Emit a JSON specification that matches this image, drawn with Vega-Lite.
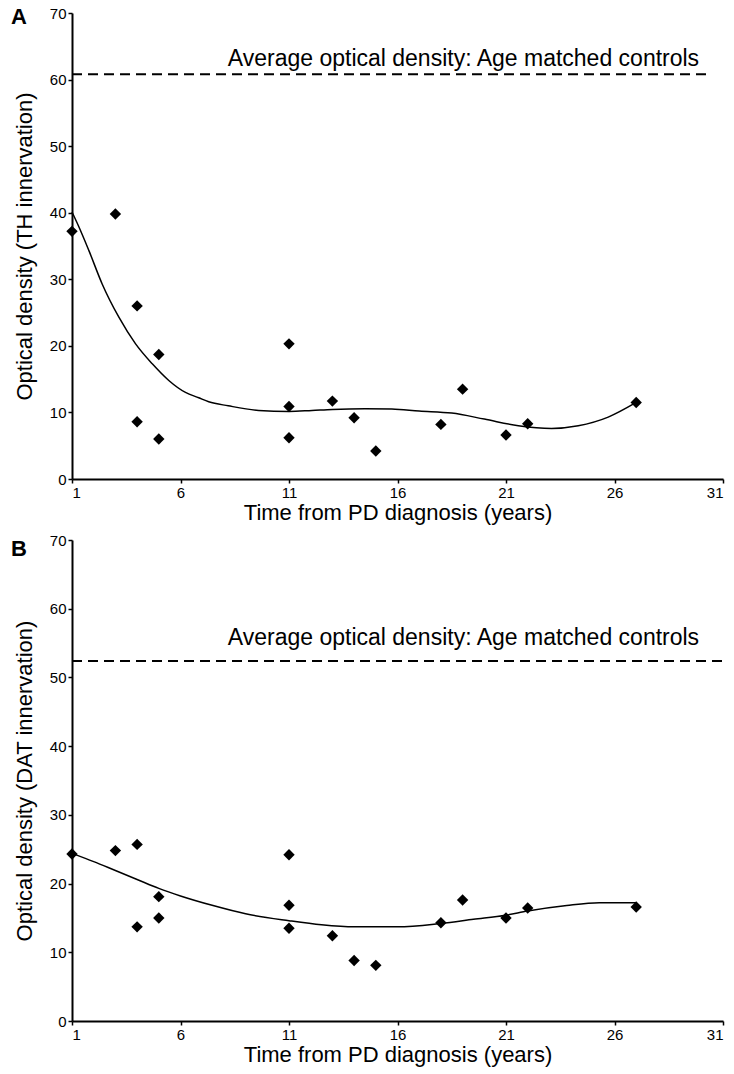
{
  "$schema": "https://vega.github.io/schema/vega-lite/v6.json",
  "background": "white",
  "padding": {"left": 10, "top": 5, "right": 5, "bottom": 5},
  "config": {
    "view": {"stroke": null},
    "font": "Liberation Sans",
    "axis": {"domainColor": "black", "domainWidth": 2, "tickColor": "black", "tickWidth": 1.5, "tickSize": 4, "labelColor": "black", "labelFont": "Liberation Sans", "labelFontSize": 15, "titleFont": "Liberation Sans", "titleFontSize": 22, "titleFontWeight": "normal", "titleColor": "black", "grid": false, "labelPadding": 2},
    "axisY": {"titlePadding": 13},
    "axisX": {"titlePadding": 2},
    "concat": {"spacing": 10}
  },
  "datasets": {
    "ptsA": [
      {"time": 1, "od": 37.2}, {"time": 3, "od": 39.8}, {"time": 4, "od": 26.0}, {"time": 4, "od": 8.6},
      {"time": 5, "od": 18.7}, {"time": 5, "od": 6.0}, {"time": 11, "od": 20.3}, {"time": 11, "od": 10.9},
      {"time": 11, "od": 6.2}, {"time": 13, "od": 11.7}, {"time": 14, "od": 9.2}, {"time": 15, "od": 4.2},
      {"time": 18, "od": 8.2}, {"time": 19, "od": 13.5}, {"time": 21, "od": 6.6}, {"time": 22, "od": 8.3},
      {"time": 27, "od": 11.5}
    ],
    "curveA": [
      {"time": 1, "od": 40.1}, {"time": 1.3, "od": 38.0}, {"time": 1.78, "od": 34.3}, {"time": 2.39, "od": 29.3},
      {"time": 3.16, "od": 24.3}, {"time": 3.93, "od": 20.3}, {"time": 4.7, "od": 17.3}, {"time": 5.46, "od": 14.8},
      {"time": 6.23, "od": 13.0}, {"time": 6.84, "od": 12.2}, {"time": 7.3, "od": 11.6}, {"time": 8.2, "od": 11.0},
      {"time": 9.6, "od": 10.3}, {"time": 11, "od": 10.15}, {"time": 12.06, "od": 10.3}, {"time": 13, "od": 10.45},
      {"time": 14.5, "od": 10.55}, {"time": 15.74, "od": 10.5}, {"time": 17, "od": 10.2}, {"time": 18.5, "od": 9.9},
      {"time": 20, "od": 9.0}, {"time": 21.57, "od": 8.0}, {"time": 23.1, "od": 7.6}, {"time": 24.33, "od": 8.0},
      {"time": 25.71, "od": 9.3}, {"time": 27, "od": 11.5}
    ],
    "ptsB": [
      {"time": 1, "od": 24.3}, {"time": 3, "od": 24.8}, {"time": 4, "od": 25.7}, {"time": 4, "od": 13.7},
      {"time": 5, "od": 18.1}, {"time": 5, "od": 15.0}, {"time": 11, "od": 24.2}, {"time": 11, "od": 16.85},
      {"time": 11, "od": 13.5}, {"time": 13, "od": 12.4}, {"time": 14, "od": 8.8}, {"time": 15, "od": 8.1},
      {"time": 18, "od": 14.3}, {"time": 19, "od": 17.6}, {"time": 21, "od": 15.0}, {"time": 22, "od": 16.45},
      {"time": 27, "od": 16.6}
    ],
    "curveB": [
      {"time": 1, "od": 24.4}, {"time": 2, "od": 23.2}, {"time": 3, "od": 21.9}, {"time": 4, "od": 20.6},
      {"time": 5, "od": 19.3}, {"time": 6, "od": 18.2}, {"time": 7.5, "od": 16.8}, {"time": 9, "od": 15.6},
      {"time": 11, "od": 14.6}, {"time": 12.5, "od": 14.0}, {"time": 14, "od": 13.7}, {"time": 16, "od": 13.7},
      {"time": 18, "od": 14.2}, {"time": 19.5, "od": 14.8}, {"time": 21, "od": 15.4}, {"time": 22, "od": 16.0},
      {"time": 23.8, "od": 16.8}, {"time": 25.3, "od": 17.2}, {"time": 27, "od": 17.2}
    ],
    "refA": [{"time": 1, "time2": 30.4, "od": 60.8}],
    "refB": [{"time": 1, "time2": 31, "od": 52.4}],
    "labA": [{"time": 29.9, "od": 62.1, "label": "Average optical density: Age matched controls"}],
    "labB": [{"time": 29.9, "od": 54.75, "label": "Average optical density: Age matched controls"}],
    "one": [{"n": 1}]
  },
  "vconcat": [
    {
      "width": 651,
      "height": 466,
      "layer": [
        {
          "data": {"name": "ptsA"},
          "mark": {"type": "point", "shape": "diamond", "filled": true, "color": "black", "size": 130, "opacity": 1},
          "encoding": {
            "x": {"field": "time", "type": "quantitative", "scale": {"domain": [1, 31], "nice": false, "zero": false}, "axis": {"values": [1, 6, 11, 16, 21, 26, 31], "title": "Time from PD diagnosis (years)"}},
            "y": {"field": "od", "type": "quantitative", "scale": {"domain": [0, 70], "nice": false}, "axis": {"values": [0, 10, 20, 30, 40, 50, 60, 70], "title": "Optical density (TH innervation)"}}
          }
        },
        {
          "data": {"name": "curveA"},
          "mark": {"type": "line", "color": "black", "strokeWidth": 1.5, "interpolate": "monotone"},
          "encoding": {"x": {"field": "time", "type": "quantitative"}, "y": {"field": "od", "type": "quantitative"}}
        },
        {
          "data": {"name": "refA"},
          "mark": {"type": "rule", "strokeDash": [10, 6], "strokeWidth": 2, "color": "black"},
          "encoding": {"x": {"field": "time", "type": "quantitative"}, "x2": {"field": "time2"}, "y": {"field": "od", "type": "quantitative"}}
        },
        {
          "data": {"name": "labA"},
          "mark": {"type": "text", "align": "right", "baseline": "alphabetic", "fontSize": 23, "font": "Liberation Sans", "color": "black"},
          "encoding": {"x": {"field": "time", "type": "quantitative"}, "y": {"field": "od", "type": "quantitative"}, "text": {"field": "label"}}
        },
        {
          "data": {"name": "one"},
          "mark": {"type": "text", "align": "center", "baseline": "alphabetic", "fontSize": 22, "fontWeight": "bold", "font": "Liberation Sans", "color": "black"},
          "encoding": {"x": {"datum": -1.45, "type": "quantitative"}, "y": {"datum": 68.4, "type": "quantitative"}, "text": {"value": "A"}}
        }
      ]
    },
    {
      "width": 651,
      "height": 481,
      "layer": [
        {
          "data": {"name": "ptsB"},
          "mark": {"type": "point", "shape": "diamond", "filled": true, "color": "black", "size": 130, "opacity": 1},
          "encoding": {
            "x": {"field": "time", "type": "quantitative", "scale": {"domain": [1, 31], "nice": false, "zero": false}, "axis": {"values": [1, 6, 11, 16, 21, 26, 31], "title": "Time from PD diagnosis (years)"}},
            "y": {"field": "od", "type": "quantitative", "scale": {"domain": [0, 70], "nice": false}, "axis": {"values": [0, 10, 20, 30, 40, 50, 60, 70], "title": "Optical density (DAT innervation)"}}
          }
        },
        {
          "data": {"name": "curveB"},
          "mark": {"type": "line", "color": "black", "strokeWidth": 1.5, "interpolate": "monotone"},
          "encoding": {"x": {"field": "time", "type": "quantitative"}, "y": {"field": "od", "type": "quantitative"}}
        },
        {
          "data": {"name": "refB"},
          "mark": {"type": "rule", "strokeDash": [10, 6], "strokeWidth": 2, "color": "black"},
          "encoding": {"x": {"field": "time", "type": "quantitative"}, "x2": {"field": "time2"}, "y": {"field": "od", "type": "quantitative"}}
        },
        {
          "data": {"name": "labB"},
          "mark": {"type": "text", "align": "right", "baseline": "alphabetic", "fontSize": 23, "font": "Liberation Sans", "color": "black"},
          "encoding": {"x": {"field": "time", "type": "quantitative"}, "y": {"field": "od", "type": "quantitative"}, "text": {"field": "label"}}
        },
        {
          "data": {"name": "one"},
          "mark": {"type": "text", "align": "center", "baseline": "alphabetic", "fontSize": 22, "fontWeight": "bold", "font": "Liberation Sans", "color": "black"},
          "encoding": {"x": {"datum": -1.45, "type": "quantitative"}, "y": {"datum": 67.7, "type": "quantitative"}, "text": {"value": "B"}}
        }
      ]
    }
  ]
}
